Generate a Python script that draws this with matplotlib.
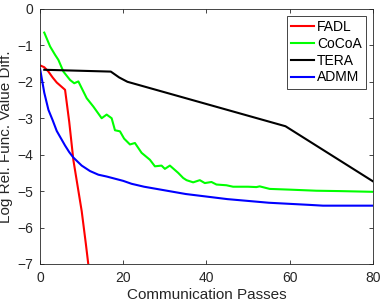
import matplotlib
matplotlib.use('Agg')
import matplotlib.pyplot as plt

plt.rcParams['font.family'] = ['Liberation Sans', 'DejaVu Sans']

# FADL
fadl_x = [0, 1, 2, 3, 4, 5, 6, 7, 8, 9, 10, 11, 12]
fadl_y = [-1.55, -1.6, -1.72, -1.88, -2.02, -2.12, -2.22, -3.1, -4.15, -4.85, -5.55, -6.45, -7.4]

# CoCoA
cocoa_x = [1, 2.4, 3.6, 4.4, 5.6, 7.2, 8.2, 9.2, 11.2, 12.8, 14.8, 16, 17.2, 18, 19.2, 20.2,
           21.6, 22.8, 24.4, 26.4, 27.6, 29.2, 30, 31.2, 33.2, 34.4, 35.2, 36.8, 38.4, 39.6,
           41.2, 42.4, 44.8, 46.4, 50, 52, 52.8, 55.2, 60, 66.4, 72, 80]
cocoa_y = [-0.65, -1.03, -1.26, -1.4, -1.72, -1.95, -2.04, -1.99, -2.45, -2.68, -3.0, -2.9,
           -3.0, -3.33, -3.36, -3.56, -3.72, -3.68, -3.95, -4.14, -4.32, -4.3, -4.39, -4.3,
           -4.5, -4.64, -4.7, -4.76, -4.7, -4.78, -4.75, -4.82, -4.84, -4.88, -4.88, -4.89,
           -4.87, -4.94, -4.96, -4.99, -5.0, -5.02]

# TERA
tera_x = [1, 17, 19, 21, 59, 80]
tera_y = [-1.67, -1.72, -1.88, -2.0, -3.22, -4.73]

# ADMM
admm_x = [0, 1, 2, 3, 4, 5, 6, 7, 8, 10, 12, 14, 16, 18, 20, 22, 25, 30, 35, 40, 45, 50,
          55, 60, 65, 68, 70, 75, 80]
admm_y = [-1.65, -2.3, -2.77, -3.05, -3.35, -3.55, -3.75, -3.93, -4.08, -4.3, -4.45, -4.55,
          -4.6, -4.66, -4.72, -4.8, -4.88, -4.98, -5.08, -5.15, -5.22, -5.27, -5.32, -5.35,
          -5.38, -5.4, -5.4, -5.4, -5.4]

fig = plt.figure(figsize=(3.82, 3.08), dpi=100)
ax = fig.add_axes([0.105, 0.143, 0.871, 0.828])

ax.plot(fadl_x, fadl_y, color='#ff0000', lw=1.5, label='FADL')
ax.plot(cocoa_x, cocoa_y, color='#00ff00', lw=1.5, label='CoCoA')
ax.plot(tera_x, tera_y, color='black', lw=1.5, label='TERA')
ax.plot(admm_x, admm_y, color='#0000ff', lw=1.5, label='ADMM')

ax.set_xlim(0, 80)
ax.set_ylim(-7, 0)
ax.set_xticks([0, 20, 40, 60, 80])
ax.set_yticks(range(-7, 1))
ax.tick_params(direction='in', top=True, right=True, labelsize=10, colors='#262626',
               length=3, width=0.6, pad=5)
for s in ax.spines.values():
    s.set_color('#262626')
    s.set_linewidth(0.6)

ax.set_xlabel('Communication Passes', fontsize=11, color='#262626', labelpad=2)
ax.set_ylabel('Log Rel. Func. Value Diff.', fontsize=11, color='#262626', labelpad=3)

leg = ax.legend(loc='upper right', fontsize=10, fancybox=False, framealpha=1,
                edgecolor='#262626', handlelength=1.65, handletextpad=0.2,
                borderpad=0.3, labelspacing=0.2, borderaxespad=0.5)
leg.get_frame().set_linewidth(0.6)

fig.savefig('out.png', dpi=100)
